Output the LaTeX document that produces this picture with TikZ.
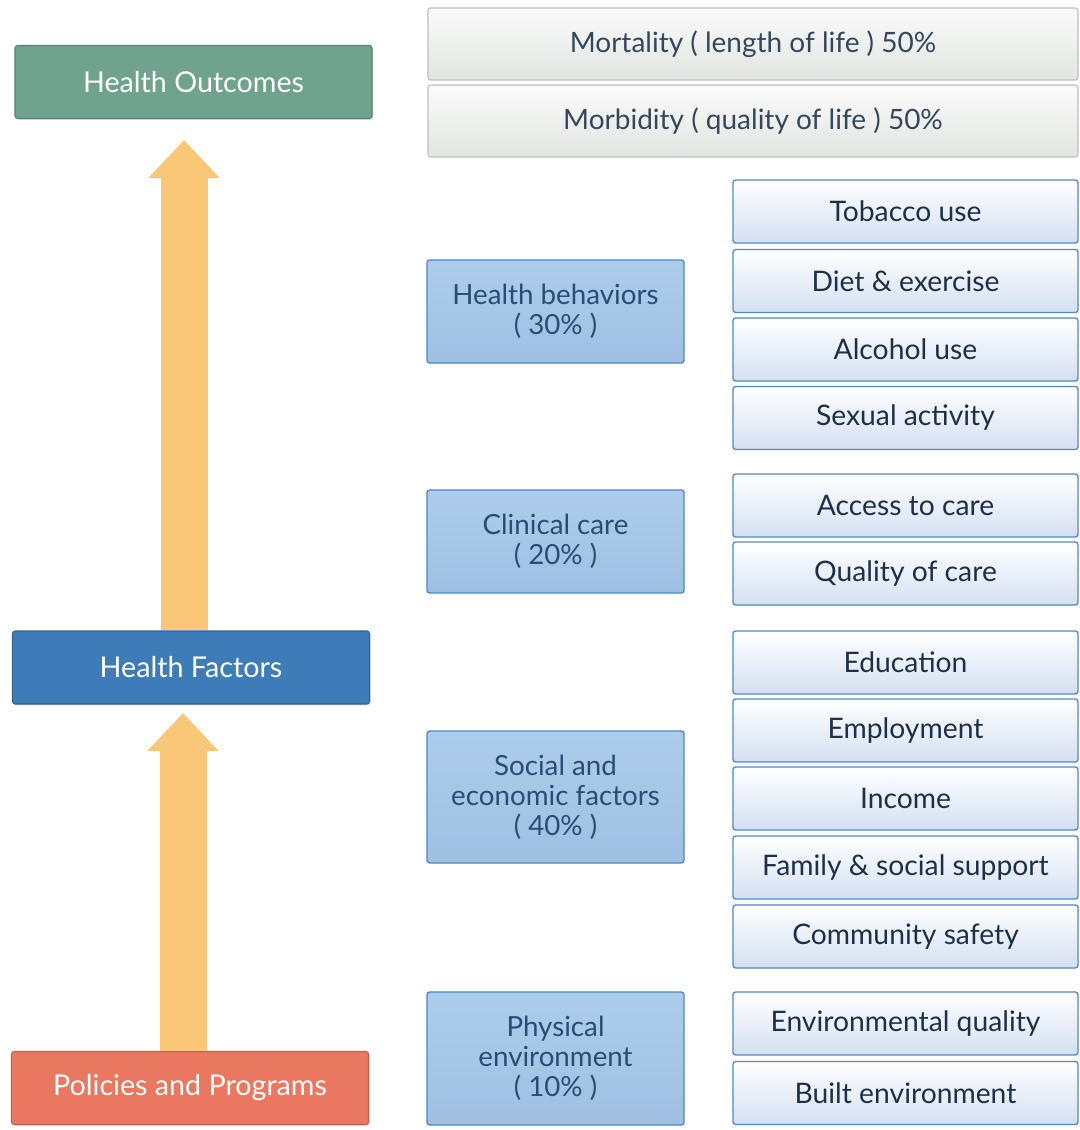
\documentclass[tikz,border=0pt]{standalone}
\usepackage{fontspec}
\setmainfont{Lato}
\usetikzlibrary{arrows.meta,shadows}
\definecolor{outc}{HTML}{6FA38E}
\definecolor{facc}{HTML}{3E7CB8}
\definecolor{polc}{HTML}{EA7860}
\definecolor{arrc}{HTML}{F8C878}
\definecolor{midfill}{HTML}{A6C8EA}
\definecolor{midline}{HTML}{4A87C6}
\definecolor{midtext}{HTML}{2B4C74}
\definecolor{rline}{HTML}{5288C6}
\definecolor{rbot}{HTML}{D3E0F2}
\definecolor{rtext}{HTML}{1E3048}
\definecolor{topfill}{HTML}{EEF1EE}
\definecolor{topline}{HTML}{BCC2BE}
\definecolor{toptext}{HTML}{34475C}
\tikzset{
  leftbox/.style={rectangle, rounded corners=2pt, draw=#1!80!black, line width=0.8pt, fill=#1,
    text=white, font=\fontsize{21.5pt}{25pt}\selectfont, minimum width=357*0.75pt, minimum height=73*0.75pt,
    inner sep=0pt, align=center, drop shadow={opacity=0.25, shadow xshift=1pt, shadow yshift=-1pt}},
  topbox/.style={rectangle, rounded corners=2pt, draw=topline, line width=0.8pt,
    top color=white!70!topfill, bottom color=topfill!95!black, text=toptext,
    font=\fontsize{21pt}{25pt}\selectfont, minimum width=650*0.75pt, minimum height=72*0.75pt, inner sep=0pt},
  midbox/.style={rectangle, rounded corners=2pt, draw=midline, line width=1pt,
    top color=midfill!92!white, bottom color=midfill!96!black, text=midtext,
    font=\fontsize{20.8pt}{22.5pt}\selectfont, minimum width=257*0.75pt, inner sep=0pt, align=center},
  subbox/.style={rectangle, rounded corners=2pt, draw=rline, line width=1pt,
    top color=white, bottom color=rbot, text=rtext,
    font=\fontsize{21.2pt}{24pt}\selectfont, minimum width=345*0.75pt, minimum height=63*0.75pt, inner sep=0pt},
  fatarrow/.style={draw=arrc, line width=47*0.75pt, -{Triangle[width=69*0.75pt,length=38*0.75pt]}, arrc}
}
\begin{document}
\begin{tikzpicture}[x=0.75pt,y=-0.75pt]
\useasboundingbox[fill=white] (0,0) rectangle (1079,1130);
% left column
\node[leftbox=outc] (out) at (193.5,82) {Health Outcomes};
\node[leftbox=facc] (fac) at (191,667.5) {Health Factors};
\node[leftbox=polc] (pol) at (190,1088) {Policies and Programs};
% arrows
\coordinate (tip1) at (184,140);
\coordinate (tip2) at (183,713);
\draw[fatarrow] (fac.north -| tip1) -- (tip1);
\draw[fatarrow] (pol.north -| tip2) -- (tip2);
% top right
\node[topbox] (mort) at (753,44) {Mortality ( length of life ) 50\%};
\node[topbox] (morb) at (753,121) {Morbidity ( quality of life ) 50\%};
% middle
\node[midbox, minimum height=103*0.75pt] (hb) at (555.5,311.5) {Health behaviors\\( 30\% )};
\node[midbox, minimum height=103*0.75pt] (cc) at (555.5,541.5) {Clinical care\\( 20\% )};
\node[midbox, minimum height=132*0.75pt] (se) at (555.5,797) {Social and\\economic factors\\( 40\% )};
\node[midbox, minimum height=133*0.75pt] (pe) at (555.5,1058.5) {Physical\\environment\\( 10\% )};
% right
\node[subbox] (tob) at (905.5,211.5) {Tobacco use};
\node[subbox] (diet) at (905.5,281) {Diet \& exercise};
\node[subbox] (alc) at (905.5,349.5) {Alcohol use};
\node[subbox] (sex) at (905.5,418) {Sexual activity};
\node[subbox] (acc) at (905.5,505.5) {Access to care};
\node[subbox] (qual) at (905.5,573.5) {Quality of care};
\node[subbox] (edu) at (905.5,662.5) {Education};
\node[subbox] (emp) at (905.5,730.5) {Employment};
\node[subbox] (inc) at (905.5,798.5) {Income};
\node[subbox] (fam) at (905.5,867.5) {Family \& social support};
\node[subbox] (com) at (905.5,936.5) {Community safety};
\node[subbox] (env) at (905.5,1023.5) {Environmental quality};
\node[subbox] (blt) at (905.5,1093) {Built environment};
\end{tikzpicture}
\end{document}
